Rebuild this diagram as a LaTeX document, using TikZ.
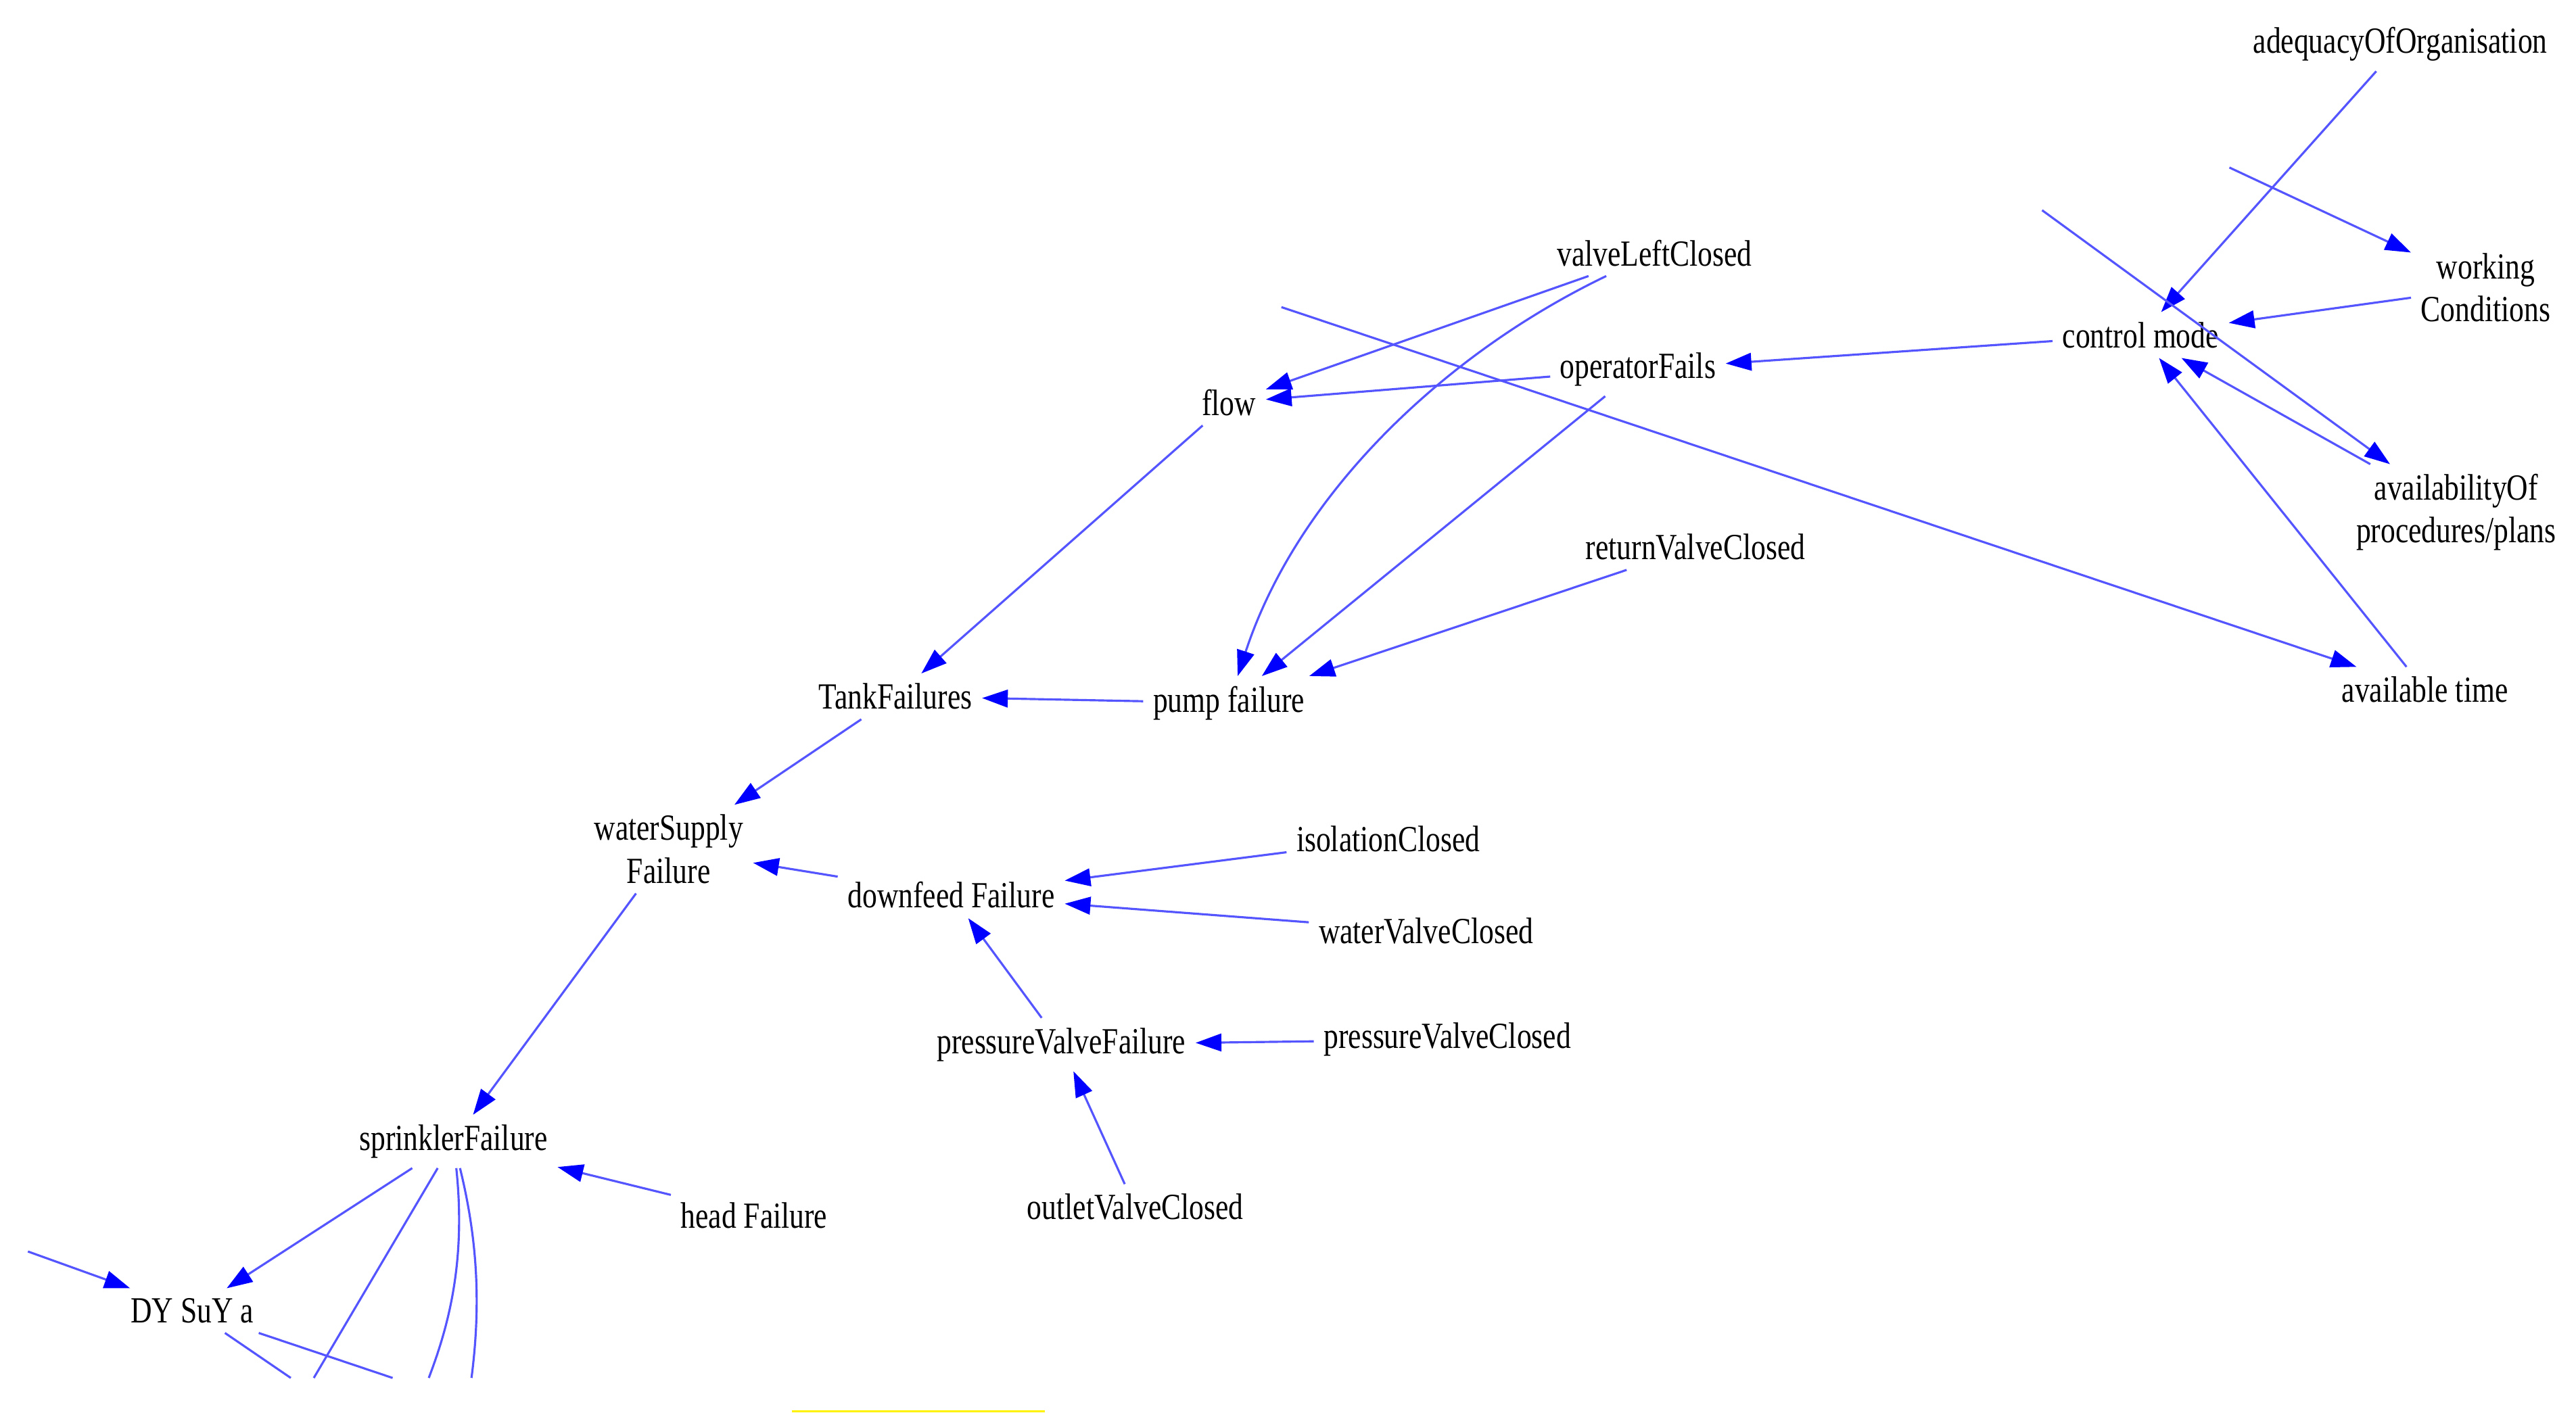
\documentclass[tikz,border=0pt]{standalone}
\usepackage{fontspec}
\setmainfont{Liberation Serif}[FakeStretch=0.8]
\usetikzlibrary{arrows.meta}
\definecolor{edgeblue}{RGB}{85,85,255}
\definecolor{tipblue}{RGB}{0,0,255}

\begin{document}
\begin{tikzpicture}[x=0.02429cm, y=-0.02429cm,
    factor/.style={inner sep=4pt, font=\fontsize{15.5}{18}\selectfont, align=center},
    link/.style={draw=edgeblue, line width=0.9pt, -{Triangle[length=0.38cm,width=0.26cm,color=tipblue]}},
    cut/.style={draw=edgeblue, line width=0.9pt}]
    \useasboundingbox (0,0) rectangle (1568,860);

    % human factors
    \node[factor] (adequacy) at (1461,27) {adequacyOfOrganisation};
    \node[factor] (working) at (1513,175) {working\\Conditions};
    \node[factor] (control) at (1303,204) {control mode};
    \node[factor] (operator) at (997,225) {operatorFails};
    \node[factor] (valveleft) at (1007,154) {valveLeftClosed};
    \node[factor] (procedures) at (1495,312) {availabilityOf\\procedures/plans};
    \node[factor] (time) at (1476,420) {available time};

    % technical failures
    \node[factor] (flow) at (748,245) {flow};
    \node[factor] (returnvalve) at (1032,333) {returnValveClosed};
    \node[factor] (tank) at (545,424) {TankFailures};
    \node[factor] (pump) at (748,428) {pump failure};
    \node[factor] (supply) at (407,517) {waterSupply\\Failure};
    \node[factor] (isolation) at (845,511) {isolationClosed};
    \node[factor] (downfeed) at (579,545) {downfeed Failure};
    \node[factor] (watervalve) at (868,567) {waterValveClosed};
    \node[factor] (pressurefail) at (646,636) {pressureValveFailure};
    \node[factor] (pressureclosed) at (881,633) {pressureValveClosed};
    \node[factor] (sprinkler) at (276,695) {sprinklerFailure};
    \node[factor] (head) at (459,740) {head Failure};
    \node[factor] (outlet) at (691,735) {outletValveClosed};
    \node[factor] (dysuya) at (117,798) {DY SuY a};

    % loose ends
    \coordinate (w0) at (1357,102);
    \coordinate (p0) at (1243,128);
    \coordinate (t0) at (780,187);
    \coordinate (d0) at (17,762);
    \coordinate (s1) at (191,839);
    \coordinate (s2) at (261,839);
    \coordinate (s3) at (287,839);
    \coordinate (d1) at (177,839);
    \coordinate (d2) at (239,839);

    \draw[link] (adequacy) -- (control);
    \draw[link] (w0) -- (working);
    \draw[link] (working) -- (control);
    \draw[link] (p0) -- (procedures);
    \draw[link] (procedures) -- (control);
    \draw[link] (time) -- (control);
    \draw[link] (t0) -- (time);
    \draw[link] (control) -- (operator);
    \draw[link] (operator) -- (flow);
    \draw[link] (valveleft) -- (flow);
    \draw[link] (valveleft) .. controls (880,215) and (790,300) .. (pump);
    \draw[link] (operator) -- (pump);
    \draw[link] (returnvalve) -- (pump);
    \draw[link] (pump) -- (tank);
    \draw[link] (flow) -- (tank);
    \draw[link] (tank) -- (supply);
    \draw[link] (downfeed) -- (supply);
    \draw[link] (isolation) -- (downfeed);
    \draw[link] (watervalve) -- (downfeed);
    \draw[link] (pressurefail) -- (downfeed);
    \draw[link] (pressureclosed) -- (pressurefail);
    \draw[link] (outlet) -- (pressurefail);
    \draw[link] (supply) -- (sprinkler);
    \draw[link] (head) -- (sprinkler);
    \draw[link] (sprinkler) -- (dysuya);
    \draw[link] (d0) -- (dysuya);
    \draw[cut] (sprinkler) -- (s1);
    \draw[cut] (sprinkler) .. controls (284,770) and (272,810) .. (s2);
    \draw[cut] (sprinkler) .. controls (292,760) and (292,800) .. (s3);
    \draw[cut] (dysuya) -- (d1);
    \draw[cut] (dysuya) -- (d2);

    \fill[yellow] (482,858.5) rectangle (636,860);
\end{tikzpicture}
\end{document}
